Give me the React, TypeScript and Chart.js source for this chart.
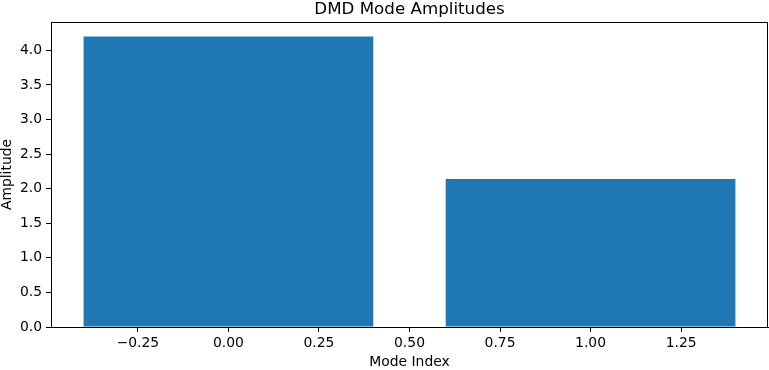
import React, { useEffect, useRef } from "react";
import { Chart, registerables } from "chart.js";

Chart.register(...registerables);

const modeIndices = [0, 1];
const amplitudes = [4.2, 2.14];
const xTicks = [-0.25, 0, 0.25, 0.5, 0.75, 1.0, 1.25];
const yTicks = [0, 0.5, 1.0, 1.5, 2.0, 2.5, 3.0, 3.5, 4.0];
const titleText = "DMD Mode Amplitudes";
const xLabel = "Mode Index";
const yLabel = "Amplitude";

const FONT = "'DejaVu Sans', sans-serif";
const BAR_COLOR = "#1f77b4";

const fmtX = (v: number) => (v < 0 ? "\u2212" + Math.abs(v).toFixed(2) : v.toFixed(2));

export default function App() {
  const ref = useRef<HTMLCanvasElement | null>(null);
  useEffect(() => {
    document.body.style.margin = "0";
    const canvas = ref.current;
    if (!canvas) return;
    const framePlugin = {
      id: "frame",
      afterDraw(chart: any) {
        const { ctx, chartArea } = chart;
        ctx.save();
        ctx.strokeStyle = "#000";
        ctx.lineWidth = 1;
        ctx.strokeRect(
          Math.round(chartArea.left) + 0.5,
          Math.round(chartArea.top) + 0.5,
          Math.round(chartArea.right - chartArea.left) - 1,
          Math.round(chartArea.bottom - chartArea.top)
        );
        ctx.fillStyle = "#000";
        ctx.font = `16.7px ${FONT}`;
        ctx.textAlign = "center";
        ctx.textBaseline = "alphabetic";
        ctx.fillText(titleText, (chartArea.left + chartArea.right) / 2, chartArea.top - 8);
        ctx.restore();
      },
    };
    const chart = new Chart(canvas, {
      type: "bar",
      data: {
        datasets: [
          {
            data: modeIndices.map((x, i) => ({ x, y: amplitudes[i] })),
            backgroundColor: BAR_COLOR,
            borderColor: BAR_COLOR,
            hoverBackgroundColor: BAR_COLOR,
            borderWidth: 0,
            inflateAmount: 0,
            barPercentage: 1,
            categoryPercentage: 0.8,
            xAxisID: "xb",
          },
        ],
      },
      options: {
        animation: false,
        responsive: false,
        events: [],
        layout: { padding: { top: 22, right: 1, left: 0, bottom: 0 } },
        plugins: { legend: { display: false }, tooltip: { enabled: false }, title: { display: false } },
        scales: {
          xb: {
            type: "linear",
            axis: "x",
            display: false,
            offset: false,
            grid: { offset: false },
            min: -0.49,
            max: 1.49,
            afterBuildTicks: (s: any) => {
              s.ticks = modeIndices.map((v) => ({ value: v }));
            },
          },
          x: {
            type: "linear",
            position: "bottom",
            offset: false,
            min: -0.49,
            max: 1.49,
            afterBuildTicks: (s: any) => {
              s.ticks = xTicks.map((v) => ({ value: v }));
            },
            afterFit: (s: any) => {
              s.height = 43;
            },
            grid: { offset: false, drawOnChartArea: false, drawTicks: true, tickLength: 5, color: "#000", lineWidth: 1 },
            border: { display: true, color: "#000", width: 1 },
            ticks: {
              color: "#000",
              font: { family: FONT, size: 13.9 },
              padding: 3,
              maxRotation: 0,
              autoSkip: false,
              callback: (v: any) => fmtX(Number(v)),
            },
            title: {
              display: true,
              text: xLabel,
              color: "#000",
              font: { family: FONT, size: 13.9, lineHeight: 1 },
              padding: { top: 0, bottom: 1 },
            },
          },
          y: {
            type: "linear",
            min: 0,
            max: 4.41,
            afterBuildTicks: (s: any) => {
              s.ticks = yTicks.map((v) => ({ value: v }));
            },
            afterFit: (s: any) => {
              s.width = 51;
            },
            grid: { drawOnChartArea: false, drawTicks: true, tickLength: 5, color: "#000", lineWidth: 1 },
            border: { display: true, color: "#000", width: 1 },
            ticks: {
              color: "#000",
              font: { family: FONT, size: 13.9 },
              padding: 4,
              autoSkip: false,
              callback: (v: any) => Number(v).toFixed(1),
            },
            title: {
              display: true,
              text: yLabel,
              color: "#000",
              font: { family: FONT, size: 13.9, lineHeight: 1 },
              padding: { top: 0, bottom: 0 },
            },
          },
        },
      },
      plugins: [framePlugin],
    } as any);
    return () => chart.destroy();
  }, []);
  return (
    <div style={{ width: 769, height: 370 }}>
      <canvas ref={ref} width={769} height={370} />
    </div>
  );
}
